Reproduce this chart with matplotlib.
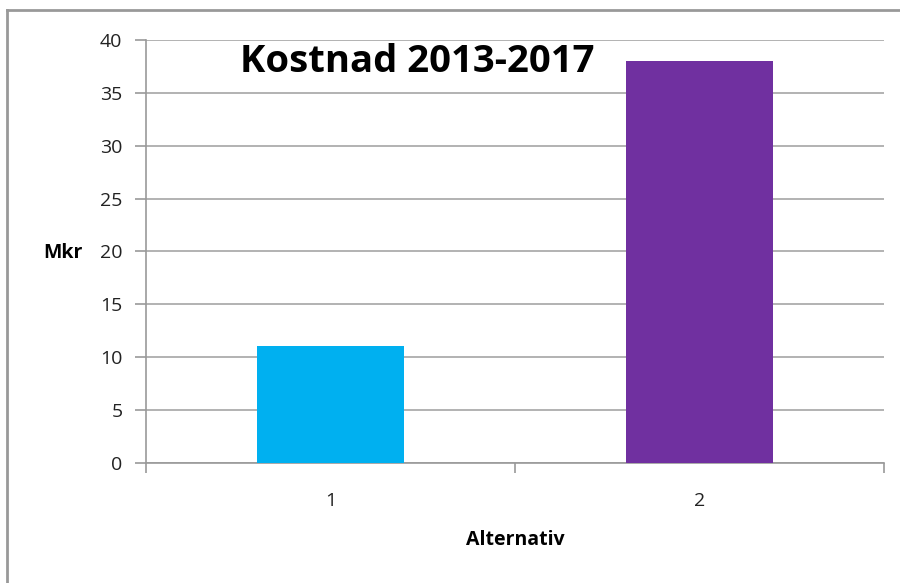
import matplotlib.pyplot as plt
from matplotlib.lines import Line2D

alternativ = [1, 2]
kostnad = [11.1, 38.0]
colors = ['#00B0F0', '#7030A0']

plt.rcParams['font.family'] = ['Open Sans', 'DejaVu Sans']

fig = plt.figure(figsize=(9, 5.83), dpi=100)
ax = fig.add_axes([146 / 900, 1 - 463 / 583, 738 / 900, 423 / 583])

ax.bar(alternativ, kostnad, width=0.4, color=colors, zorder=3)

ax.set_xlim(0.5, 2.5)
ax.set_ylim(0, 40)
ax.set_yticks(range(0, 41, 5))
ax.set_xticks(alternativ)
ax.set_xticks([0.5, 1.5, 2.5], minor=True)
ax.tick_params(axis='x', which='major', length=0, pad=21, labelsize=14, labelcolor='#222222')
ax.tick_params(axis='x', which='minor', length=7, color='#999999', width=1.2)
ax.tick_params(axis='y', length=8, color='#999999', width=1.2, pad=9, labelsize=14, labelcolor='#222222')

ax.grid(axis='y', color='#a6a6a6', linewidth=1.2, zorder=0)
for s in ['top', 'right']:
    ax.spines[s].set_visible(False)
for s in ['left', 'bottom']:
    ax.spines[s].set_color('#999999')
    ax.spines[s].set_linewidth(1.2)

ax.text(0.367, 0.948, 'Kostnad 2013-2017', transform=ax.transAxes, ha='center', va='center',
        fontsize=27.5, fontweight='bold', color='black')
fig.text(63 / 900, 1 - 253 / 583, 'Mkr', ha='center', va='center', fontsize=14, fontweight='bold')
fig.text(515 / 900, 1 - 540 / 583, 'Alternativ', ha='center', va='center', fontsize=14, fontweight='bold')

# outer frame (top and left edges visible)
fig.add_artist(Line2D([7 / 900, 7 / 900], [0, 1 - 10 / 583], transform=fig.transFigure,
                      color='#999999', linewidth=2))
fig.add_artist(Line2D([7 / 900, 1], [1 - 10 / 583, 1 - 10 / 583], transform=fig.transFigure,
                      color='#999999', linewidth=2))

fig.savefig('out.png', dpi=100)
